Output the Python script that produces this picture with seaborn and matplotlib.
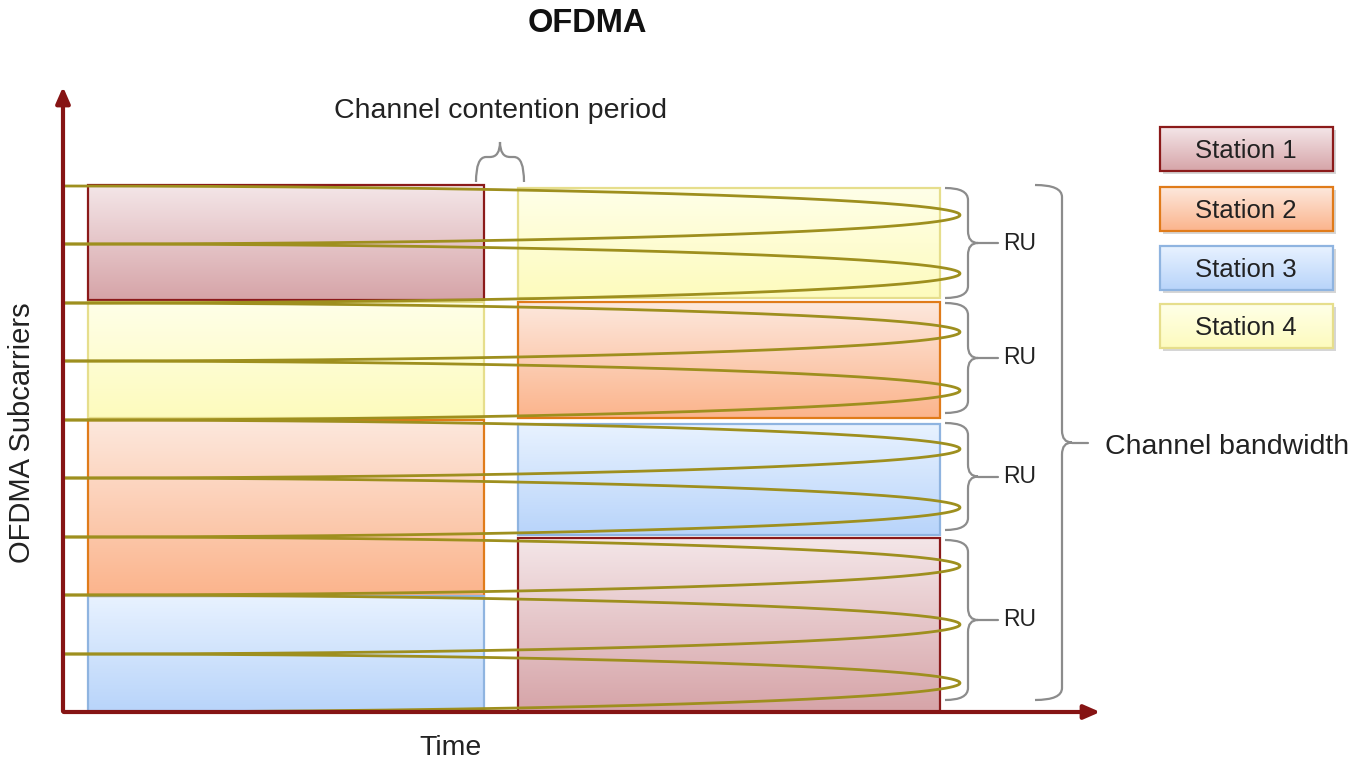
import numpy as np
import pandas as pd
import matplotlib.pyplot as plt
import matplotlib.colors as mcolors
from matplotlib.path import Path
from matplotlib.patches import PathPatch, Rectangle
import seaborn as sns

# Stations and their colours (top of gradient, bottom of gradient, edge)
stations = ['Station 1', 'Station 2', 'Station 3', 'Station 4']
color_top = ['#f4e6e8', '#fde8dd', '#e8f2ff', '#ffffe8']
color_bottom = ['#d6a4a8', '#fbb48c', '#b8d4fa', '#fdfbbd']
color_edge = ['#8b1a1a', '#e07b1a', '#8fb4e0', '#e6de8c']

# Resource allocation, first transmission (before contention) and second
left_time = (88, 484)
left_station = ['Station 1', 'Station 4', 'Station 2', 'Station 3']
left_top = [185, 302, 420, 596]
left_bottom = [300, 418, 596, 712]

right_time = (518, 940)
right_station = ['Station 4', 'Station 2', 'Station 3', 'Station 1']
right_top = [188, 302, 424, 538]
right_bottom = [298, 418, 535, 712]

# Subcarrier levels where the carriers fold back
carrier_levels = [186, 244, 303, 361, 420, 478, 537, 595, 654, 712]
carrier_tip = 960

# Resource units
ru_top = [188, 303, 423, 540]
ru_bottom = [298, 413, 530, 700]

sns.set_theme(style='white')
plt.rcParams['font.family'] = ['Liberation Sans', 'DejaVu Sans']

fig = plt.figure(figsize=(13.65, 7.64), dpi=100)
ax = fig.add_axes([0, 0, 1, 1])


def block(x0, x1, y0, y1, name):
    i = stations.index(name)
    c0 = np.array(mcolors.to_rgb(color_top[i]))
    c1 = np.array(mcolors.to_rgb(color_bottom[i]))
    w = np.linspace(0, 1, 128)[:, None]
    grad = (c0 * (1 - w) + c1 * w)[:, None, :]
    ax.imshow(grad, extent=(x0, x1, y1, y0), aspect='auto', interpolation='bilinear', zorder=1)
    ax.add_patch(Rectangle((x0, y0), x1 - x0, y1 - y0, fill=False,
                           edgecolor=color_edge[i], lw=1.6, zorder=2))


for name, t, b in zip(left_station, left_top, left_bottom):
    block(left_time[0], left_time[1], t, b, name)
for name, t, b in zip(right_station, right_top, right_bottom):
    block(right_time[0], right_time[1], t, b, name)

# Carriers: half-ellipses folding back at the right
rows = []
theta = np.linspace(-np.pi / 2, np.pi / 2, 300)
for k in range(len(carrier_levels) - 1):
    y0, y1 = carrier_levels[k], carrier_levels[k + 1]
    mid, half = (y0 + y1) / 2, (y1 - y0) / 2
    xs = 63 + (carrier_tip - 63) * np.cos(theta)
    ys = mid + half * np.sin(theta)
    rows.append(pd.DataFrame({'x': xs, 'y': ys, 'fold': k}))
carriers = pd.concat(rows)
sns.lineplot(data=carriers, x='x', y='y', units='fold', estimator=None, sort=False,
             color='#9e8f1e', lw=2, ax=ax, zorder=3, legend=False)

# Axes arrows
axis_col = '#861414'
ax.annotate('', xy=(63, 84), xytext=(63, 714),
            arrowprops=dict(arrowstyle='-|>,head_width=0.35,head_length=0.8', color=axis_col, lw=3), zorder=5)
ax.annotate('', xy=(1103, 712), xytext=(61, 712),
            arrowprops=dict(arrowstyle='-|>,head_width=0.35,head_length=0.8', color=axis_col, lw=3), zorder=5)


def brace_right(x0, xv, xt, y0, y1, stub):
    r = 12
    ym = (y0 + y1) / 2
    verts = [(x0, y0), (xv, y0), (xv, y0 + r), (xv, ym - r), (xv, ym), (xt, ym),
             (xv, ym), (xv, ym + r), (xv, y1 - r), (xv, y1), (x0, y1)]
    codes = [Path.MOVETO, Path.CURVE3, Path.CURVE3, Path.LINETO, Path.CURVE3, Path.CURVE3,
             Path.CURVE3, Path.CURVE3, Path.LINETO, Path.CURVE3, Path.CURVE3]
    ax.add_patch(PathPatch(Path(verts, codes), fill=False, edgecolor='#8c8c8c', lw=1.6, zorder=4))
    ax.plot([xt, stub], [ym, ym], color='#8c8c8c', lw=1.6, zorder=4)
    return ym


for t, b in zip(ru_top, ru_bottom):
    ym = brace_right(945, 968, 978, t, b, 998)
    ax.text(1003, ym, 'RU', fontsize=16.5, ha='left', va='center', color='#222222')

ym = brace_right(1035, 1062, 1072, 185, 700, 1088)
ax.text(1105, ym + 4, 'Channel bandwidth', fontsize=20.5, ha='left', va='center', color='#222222')

# Contention period brace (pointing up)
r = 10
verts = [(476, 182), (476, 157), (476 + r, 157), (500 - r, 157), (500, 157), (500, 142),
         (500, 157), (500 + r, 157), (524 - r, 157), (524, 157), (524, 182)]
codes = [Path.MOVETO, Path.CURVE3, Path.CURVE3, Path.LINETO, Path.CURVE3, Path.CURVE3,
         Path.CURVE3, Path.CURVE3, Path.LINETO, Path.CURVE3, Path.CURVE3]
ax.add_patch(PathPatch(Path(verts, codes), fill=False, edgecolor='#8c8c8c', lw=1.6, zorder=4))
ax.text(500, 111, 'Channel contention period', fontsize=20.5, ha='center', va='center', color='#222222')

# Legend boxes
legend_top = [127, 187, 246, 304]
for name, t in zip(stations, legend_top):
    ax.add_patch(Rectangle((1163, t + 3), 173, 44, facecolor='#d6d6d6', edgecolor='none', zorder=1))
    block(1160, 1333, t, t + 44, name)
    ax.text(1246, t + 24, name, fontsize=18.5, ha='center', va='center', color='#222222', zorder=6)

# Titles and labels
ax.text(587, 24, 'OFDMA', fontsize=23.5, fontweight='bold', ha='center', va='center', color='#111111')
ax.text(450, 748, 'Time', fontsize=20.5, ha='center', va='center', color='#222222')
ax.text(22, 433, 'OFDMA Subcarriers', fontsize=21, rotation=90, ha='center', va='center', color='#222222')

ax.set_xlim(0, 1365)
ax.set_ylim(764, 0)
ax.axis('off')

fig.savefig('out.png', dpi=100)
